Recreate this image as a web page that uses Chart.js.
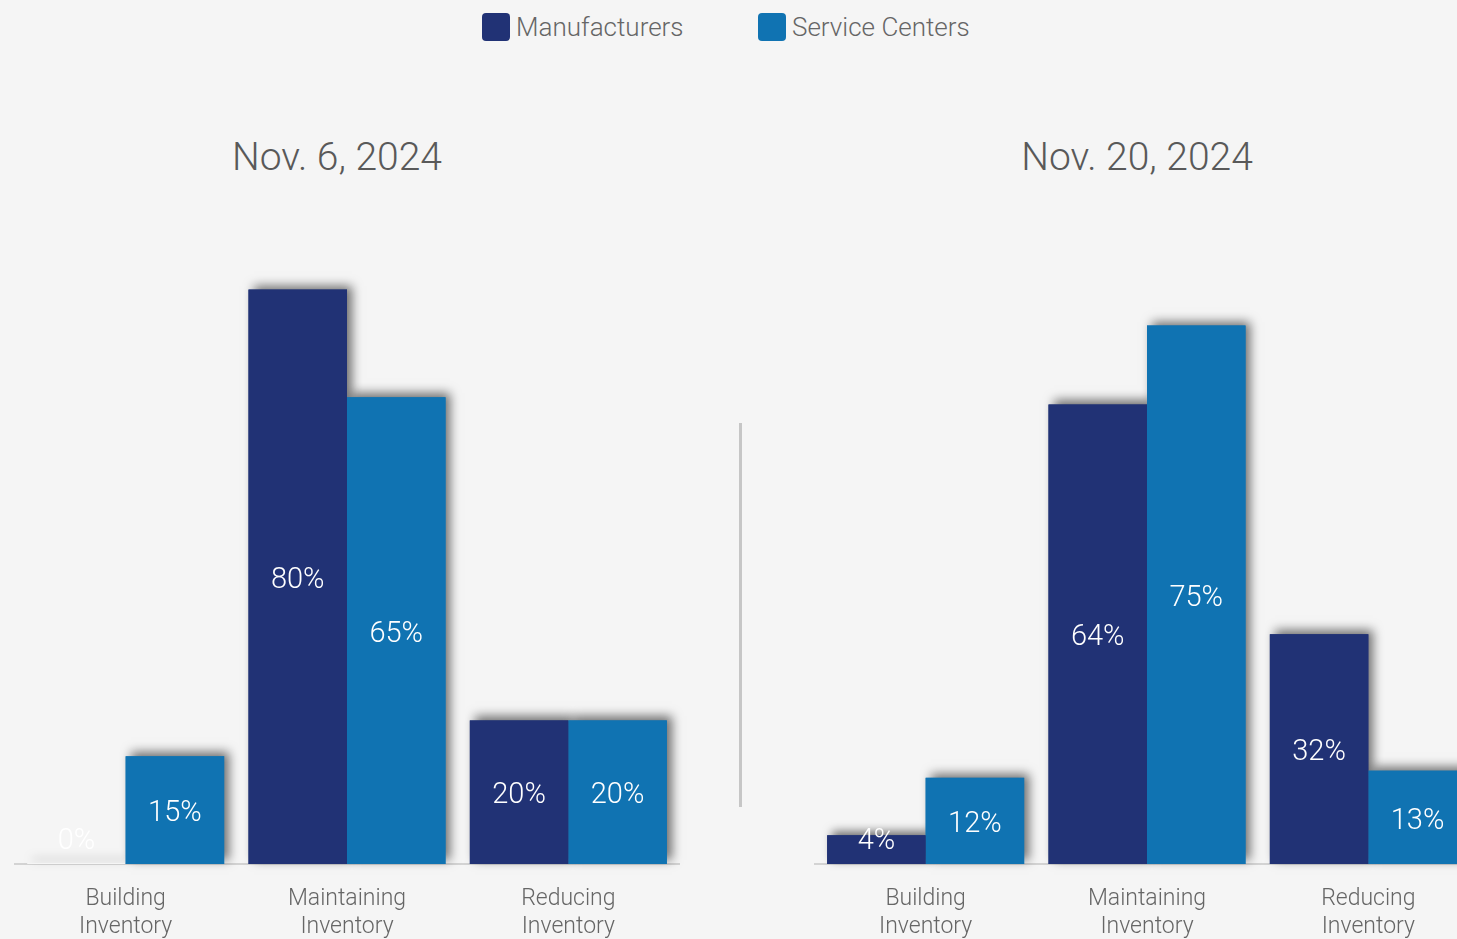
<!DOCTYPE html>
<html>
<head>
<meta charset="utf-8">
<title>Inventory plans</title>
<script src="https://cdn.jsdelivr.net/npm/chart.js@4.4.1/dist/chart.umd.min.js"></script>
<style>
  html, body {
    margin: 0;
    padding: 0;
    width: 1457px;
    height: 939px;
    overflow: hidden;
    background: #f5f5f5;
    font-family: Roboto, "Liberation Sans", sans-serif;
    font-weight: 300;
  }
  .swatch {
    position: absolute;
    top: 13px;
    width: 28px;
    height: 28px;
    border-radius: 4px;
  }
  .legend-text {
    position: absolute;
    top: 10px;
    font-size: 26px;
    line-height: 34px;
    color: #666;
    white-space: nowrap;
  }
  .title {
    position: absolute;
    top: 135px;
    width: 500px;
    text-align: center;
    font-size: 39px;
    line-height: 44px;
    color: #595959;
  }
  .divider {
    position: absolute;
    left: 739px;
    top: 423px;
    width: 3px;
    height: 384px;
    background: #c6c6c6;
  }
  canvas { position: absolute; top: 0; }
</style>
</head>
<body>

<div class="swatch" style="left:482px;background:#213275"></div>
<div class="legend-text" style="left:516px">Manufacturers</div>
<div class="swatch" style="left:758px;background:#1073b2"></div>
<div class="legend-text" style="left:792px">Service Centers</div>

<div class="title" style="left:87px">Nov. 6, 2024</div>
<div class="title" style="left:887px">Nov. 20, 2024</div>

<div class="divider"></div>

<canvas id="nov6" width="700" height="939" style="left:0"></canvas>
<canvas id="nov20" width="700" height="939" style="left:800px"></canvas>

<script>
// Share of respondents by inventory plan (%)
const categories = [["Building", "Inventory"], ["Maintaining", "Inventory"], ["Reducing", "Inventory"]];
const seriesNames = ["Manufacturers", "Service Centers"];
const seriesColors = ["#213275", "#1073b2"];

const nov6Manufacturers = [0, 80, 20];
const nov6ServiceCenters = [15, 65, 20];

const nov20Manufacturers = [4, 64, 32];
const nov20ServiceCenters = [12, 75, 13];

const FONT = "Roboto, 'Liberation Sans', sans-serif";

// soft drop shadow behind every bar; the bars themselves are drawn on top of it
const barShadow = {
  id: "barShadow",
  beforeDatasetsDraw(chart) {
    const ctx = chart.ctx;
    ctx.save();
    ctx.shadowColor = "rgba(0, 0, 0, 0.55)";
    ctx.shadowBlur = 10;
    ctx.shadowOffsetX = 5;
    ctx.shadowOffsetY = -4;
    chart.data.datasets.forEach((ds, i) => {
      chart.getDatasetMeta(i).data.forEach((bar) => {
        const { x, y, base, width } = bar.getProps(["x", "y", "base", "width"], true);
        const h = base - y;
        ctx.fillStyle = h > 0.5 ? ds.backgroundColor : "#f5f5f5";
        ctx.fillRect(x - width / 2, base - Math.max(h, 1), width, Math.max(h, 1));
      });
    });
    ctx.restore();
  }
};

// percentage written inside each bar
const barValues = {
  id: "barValues",
  afterDatasetsDraw(chart) {
    const ctx = chart.ctx;
    ctx.save();
    ctx.fillStyle = "#ffffff";
    ctx.font = "300 29px " + FONT;
    ctx.textAlign = "center";
    ctx.textBaseline = "middle";
    chart.data.datasets.forEach((ds, i) => {
      chart.getDatasetMeta(i).data.forEach((bar, j) => {
        const y = Math.min((bar.y + bar.base) / 2, bar.base - 26) + 4;
        ctx.fillText(ds.data[j] + "%", bar.x, y);
      });
    });
    ctx.restore();
  }
};

function makeChart(id, manufacturers, serviceCenters) {
  const ctx = document.getElementById(id).getContext("2d");
  return new Chart(ctx, {
    type: "bar",
    data: {
      labels: categories,
      datasets: [
        {
          label: seriesNames[0],
          data: manufacturers,
          backgroundColor: seriesColors[0],
          borderWidth: 0,
          barPercentage: 1,
          categoryPercentage: 0.89,
        },
        {
          label: seriesNames[1],
          data: serviceCenters,
          backgroundColor: seriesColors[1],
          borderWidth: 0,
          barPercentage: 1,
          categoryPercentage: 0.89,
        },
      ],
    },
    options: {
      responsive: false,
      animation: false,
      layout: {
        padding: { left: 15, right: 21, top: 146, bottom: 0 },
      },
      plugins: {
        legend: { display: false },
        tooltip: { enabled: false },
      },
      scales: {
        x: {
          grid: { display: false, drawTicks: false },
          border: { color: "#d3d3d3", width: 2 },
          ticks: {
            color: "#666",
            padding: 21,
            maxRotation: 0,
            autoSkip: false,
            font: { family: FONT, size: 23, weight: 300, lineHeight: 1.217 },
          },
          afterFit(scale) {
            scale.height = 75;
          },
        },
        y: {
          display: false,
          min: 0,
          max: 100,
        },
      },
    },
    plugins: [barShadow, barValues],
  });
}

makeChart("nov6", nov6Manufacturers, nov6ServiceCenters);
makeChart("nov20", nov20Manufacturers, nov20ServiceCenters);
</script>
</body>
</html>
